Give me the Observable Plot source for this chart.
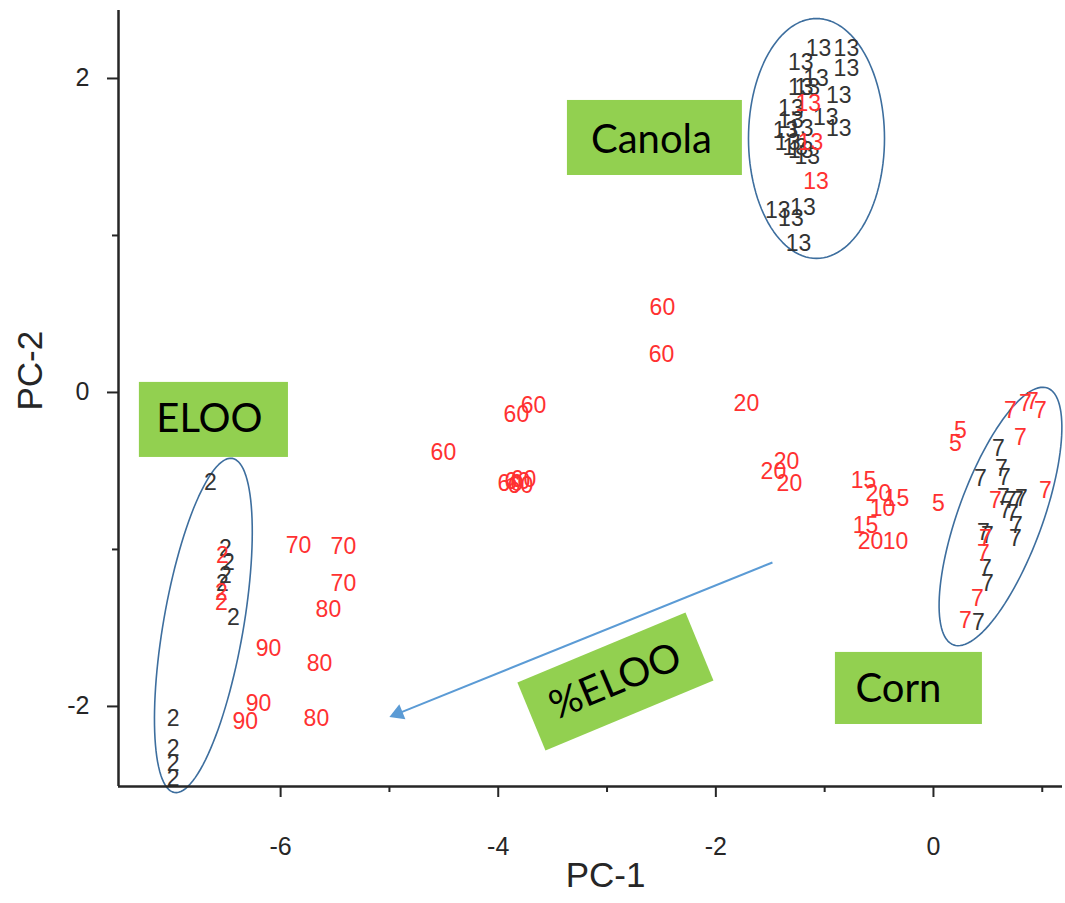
<!DOCTYPE html>
<html>
<head>
<meta charset="utf-8">
<script src="https://cdn.jsdelivr.net/npm/d3@7"></script>
<script src="https://cdn.jsdelivr.net/npm/@observablehq/plot@0.6"></script>
<style>
  html, body { margin: 0; padding: 0; background: #ffffff; }
  #chart svg { display: block; }
</style>
</head>
<body>
<div id="chart"></div>
<script>
// PCA scores: PC-1 / PC-2 for each sample, label = % ELOO or oil class code
// Pure oils (black)
const pureLabel = [
  "13","13","13","13","13","13","13","13","13","13","13","13","13","13","13","13","13","13","13","13","13","13",
  "7","7","7","7","7","7","7","7","7","7","7","7","7","7","7","7","7",
  "2","2","2","2","2","2","2","2","2","2"
];
const purePC1 = [
  -1.057,-0.80,-1.22,-0.80,-1.08,-1.22,-1.16,-0.87,-1.31,-1.31,-0.99,-0.87,-1.36,-1.22,-1.34,-1.22,-1.16,-1.27,-1.43,-1.20,-1.31,-1.24,
  0.597,0.432,0.625,0.653,0.643,0.708,0.772,0.809,0.662,0.726,0.763,0.754,0.46,0.496,0.478,0.496,0.414,
  -6.645,-6.507,-6.48,-6.507,-6.535,-6.434,-6.987,-6.987,-6.987,-6.987
];
const purePC2 = [
  2.191,2.19,2.10,2.06,2.00,1.94,1.94,1.89,1.81,1.73,1.75,1.68,1.67,1.68,1.59,1.54,1.50,1.56,1.16,1.18,1.11,0.95,
  -0.357,-0.548,-0.484,-0.541,-0.669,-0.688,-0.688,-0.675,-0.752,-0.771,-0.847,-0.93,-0.892,-0.911,-1.121,-1.217,-1.465,
  -0.573,-0.994,-1.083,-1.166,-1.217,-1.433,-2.076,-2.268,-2.363,-2.459
];

// Blends and test samples (red)
const blendLabel = [
  "13","13","13",
  "7","7","7","7","7","7","7","7","7","7","7",
  "5","5","5",
  "2","2","2",
  "60","60","60","60","60","60","60","60","60",
  "20","20","20","20","20","20",
  "15","15","15",
  "10","10",
  "70","70","70",
  "80","80","80",
  "90","90","90"
];
const blendPC1 = [
  -1.15,-1.13,-1.08,
  0.708,0.846,0.91,0.983,0.80,1.029,0.57,0.478,0.46,0.404,0.294,
  0.248,0.202,0.046,
  -6.535,-6.544,-6.544,
  -2.491,-2.5,-3.676,-3.833,-4.504,-3.888,-3.824,-3.768,-3.796,
  -1.719,-1.351,-1.471,-1.324,-0.506,-0.579,
  -0.643,-0.34,-0.625,
  -0.469,-0.349,
  -5.836,-5.423,-5.423,
  -5.561,-5.643,-5.671,
  -6.112,-6.204,-6.324
];
const blendPC2 = [
  1.84,1.59,1.34,
  -0.115,-0.07,-0.057,-0.115,-0.287,-0.624,-0.688,-0.93,-1.025,-1.312,-1.452,
  -0.242,-0.325,-0.707,
  -1.038,-1.274,-1.338,
  0.541,0.242,-0.083,-0.14,-0.382,-0.58,-0.567,-0.554,-0.592,
  -0.07,-0.439,-0.503,-0.58,-0.643,-0.949,
  -0.561,-0.675,-0.847,
  -0.739,-0.949,
  -0.975,-0.981,-1.217,
  -1.382,-1.726,-2.076,
  -1.631,-1.981,-2.096
];

// Axes
const xDomain = [-7.49, 1.186];
const yDomain = [-2.51, 2.433];
const xMajor = [-6, -4, -2, 0];
const xMinor = [-5, -3, -1, 1];
const yMajor = [-2, 0, 2];
const yMinor = [-1, 1];

// Group outlines: centre, semi-axis vectors (PC units)
const groupNames = ["Canola", "Corn", "ELOO"];
const groupCenter = [[-1.075, 1.618], [0.616, -0.79], [-6.71, -1.484]];
const groupAxisA = [[0, 0.764], [0.432, 0.818], [0.2665, 1.064]];
const groupAxisB = [[0.625, 0], [0.363, -0.092], [0.362, -0.0436]];

// Label boxes: [x1, x2, y1, y2] and label anchor
const boxNames = ["Canola", "ELOO", "Corn"];
const boxExtent = [[-3.364, -1.756, 1.382, 1.860], [-7.298, -5.928, -0.414, 0.064], [-0.901, 0.45, -2.115, -1.656]];
const boxTextAt = [[-2.592, 1.605], [-6.654, -0.172], [-0.322, -1.892]];

// Trend arrow with its tilted caption box
const trendText = "%ELOO";
const trendFrom = [-1.48, -1.083];
const trendTo = [-4.963, -2.057];
const trendBox = [[-3.824, -1.847], [-2.279, -1.401], [-2.022, -1.834], [-3.566, -2.280]];
const trendTextAt = [-2.923, -1.841];
const trendAngle = -22.6;

const pure = pureLabel.map((t, i) => ({label: t, pc1: purePC1[i], pc2: purePC2[i]}));
const blend = blendLabel.map((t, i) => ({label: t, pc1: blendPC1[i], pc2: blendPC2[i]}));

const outline = groupNames.flatMap((g, k) => d3.range(0, 121).map(j => {
  const t = (j / 120) * 2 * Math.PI;
  const [cx, cy] = groupCenter[k], [ax, ay] = groupAxisA[k], [bx, by] = groupAxisB[k];
  return {group: g, pc1: cx + ax * Math.cos(t) + bx * Math.sin(t), pc2: cy + ay * Math.cos(t) + by * Math.sin(t)};
}));

const boxes = boxNames.map((n, i) => ({name: n, x1: boxExtent[i][0], x2: boxExtent[i][1], y1: boxExtent[i][2], y2: boxExtent[i][3], tx: boxTextAt[i][0], ty: boxTextAt[i][1]}));
const tilted = [...trendBox, trendBox[0]].map(([x, y]) => ({x, y}));

const green = "#92d050";
const red = "#ff3131";
const ink = "#333333";
const axisInk = "#262626";

const chart = Plot.plot({
  width: 1065,
  height: 903,
  marginLeft: 118,
  marginRight: 3,
  marginTop: 10,
  marginBottom: 117,
  x: {domain: xDomain},
  y: {domain: yDomain},
  style: {fontFamily: "'Liberation Sans', Arial, sans-serif", background: "#ffffff"},
  marks: [
    // label boxes
    Plot.rect(boxes, {x1: "x1", x2: "x2", y1: "y1", y2: "y2", fill: green}),
    Plot.line(tilted, {x: "x", y: "y", fill: green, stroke: "none"}),
    Plot.text(boxes, {x: "tx", y: "ty", text: "name", fill: "#000", fontSize: 40, fontFamily: "Lato, 'Open Sans', sans-serif"}),
    Plot.text([trendText], {x: trendTextAt[0], y: trendTextAt[1], text: d => d, rotate: trendAngle, fill: "#000", fontSize: 40, fontFamily: "Lato, 'Open Sans', sans-serif"}),
    // trend arrow
    Plot.link([0], {x1: trendFrom[0], y1: trendFrom[1], x2: trendTo[0], y2: trendTo[1], stroke: "#5b9bd5", strokeWidth: 2}),
    Plot.dot([0], {x: trendTo[0], y: trendTo[1], symbol: "triangle", r: 6, fill: "#5b9bd5", stroke: "none", rotate: -112, dx: 4.6, dy: -1.9}),
    // group outlines
    Plot.line(outline, {x: "pc1", y: "pc2", z: "group", stroke: "#3d6e9e", strokeWidth: 1.6, clip: false}),
    // sample scores
    Plot.text(pure, {x: "pc1", y: "pc2", text: "label", fill: ink, fontSize: 23}),
    Plot.text(blend, {x: "pc1", y: "pc2", text: "label", fill: red, fontSize: 23}),
    // axes
    Plot.axisX(xMajor, {tickSize: 11, tickPadding: 40, fontSize: 25, strokeWidth: 2, stroke: axisInk, fill: axisInk, tickFormat: d => String(d), label: null}),
    Plot.axisX(xMinor, {tickSize: 6, strokeWidth: 2, stroke: axisInk, tickFormat: () => "", label: null}),
    Plot.axisY(yMajor, {tickSize: 11, tickPadding: 18, fontSize: 25, strokeWidth: 2, stroke: axisInk, fill: axisInk, tickFormat: d => String(d), label: null}),
    Plot.axisY(yMinor, {tickSize: 6, strokeWidth: 2, stroke: axisInk, tickFormat: () => "", label: null}),
    Plot.ruleY([yDomain[0]], {stroke: axisInk, strokeWidth: 2.5}),
    Plot.ruleX([xDomain[0]], {stroke: axisInk, strokeWidth: 2.5}),
    Plot.text(["PC-1"], {frameAnchor: "bottom", dx: 15, dy: 100, text: d => d, fontSize: 35, fill: axisInk}),
    Plot.text(["PC-2"], {frameAnchor: "left", dx: -88, dy: 12, rotate: -90, text: d => d, fontSize: 35, fill: axisInk})
  ]
});
document.getElementById("chart").appendChild(chart);
</script>
</body>
</html>
